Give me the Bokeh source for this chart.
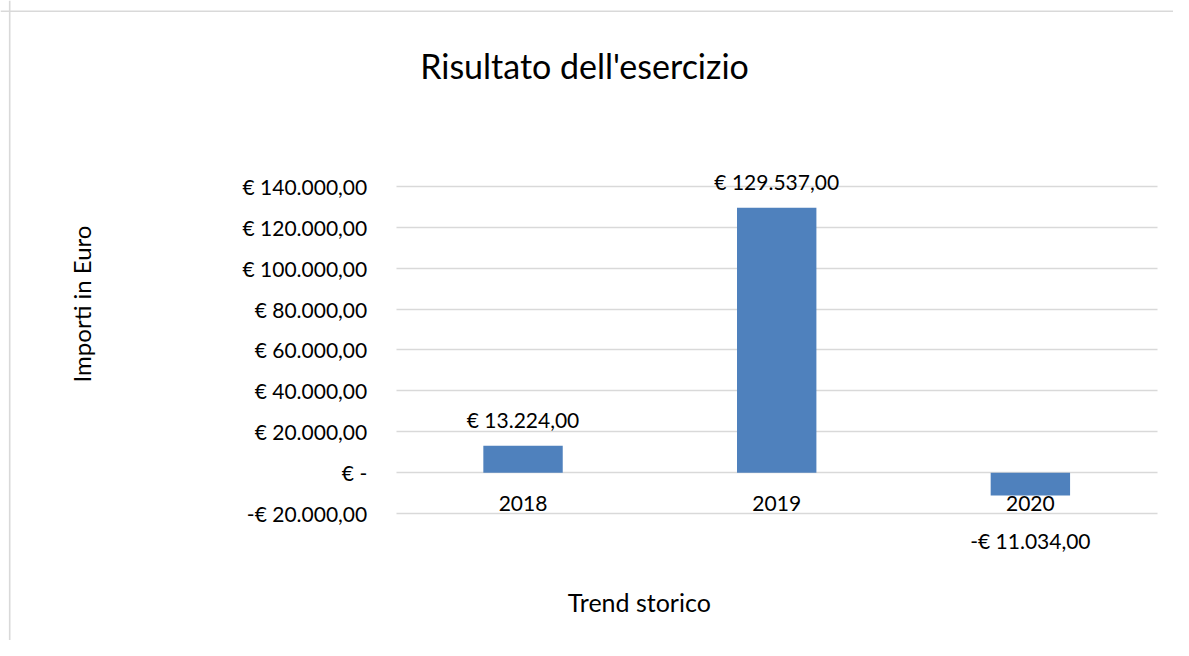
from math import pi
from bokeh.plotting import figure
from bokeh.models import (LinearAxis, FixedTicker, Grid, Span, Range1d,
                          ColumnDataSource)
from bokeh.core.properties import value
from bokeh.embed import file_html
from bokeh.resources import INLINE

# ---------------- data ----------------
years = ["2018", "2019", "2020"]
results = [13224, 129537, -11034]
y_ticks = [-20000, 0, 20000, 40000, 60000, 80000, 100000, 120000, 140000]
title_text = "Risultato dell'esercizio"
x_title = "Trend storico"
y_title = "Importi in Euro"


def euro(v):
    if v == 0:
        return "€ -"
    s = f"{abs(v):,.2f}".replace(",", "X").replace(".", ",").replace("X", ".")
    return ("-€ " if v < 0 else "€ ") + s


# ---------------- layout constants (pixels) ----------------
W, H = 1173, 640
PAGE = 0
PLOT_LEFT = 395.7 - PAGE       # canvas x of first category start
CAT_PX = 253.67                # pixels per category
ZERO_PX = 472.3 - PAGE         # canvas y of value 0
UNIT_PER_PX = 20000 / 40.94    # value per pixel
BASE_FIX = 0.33                # baseline correction, in em

x0 = -PLOT_LEFT / CAT_PX
x1 = (W - PLOT_LEFT) / CAT_PX
y1 = ZERO_PX * UNIT_PER_PX
y0 = -(H - ZERO_PX) * UNIT_PER_PX


def cx(page_x):
    return (page_x - PAGE - PLOT_LEFT) / CAT_PX


def cy(page_y):
    return (ZERO_PX - (page_y - PAGE)) * UNIT_PER_PX


FONT_NAME = "Lato"
FONT = value(FONT_NAME)
TXT = "#000000"
LBL = 21
TITLE = 34
XT = 25
YT = 24

p = figure(width=W, height=H, output_backend="svg", toolbar_location=None,
           x_range=Range1d(x0, x1), y_range=Range1d(y0, y1),
           x_axis_location=None, y_axis_location=None, min_border=0)
p.outline_line_color = None
p.background_fill_color = "white"
p.border_fill_color = "white"
# drop any default grids
p.center = [r for r in p.center if not isinstance(r, Grid)]

# chart border (left & top visible)
p.add_layout(Span(location=cx(9.2), dimension="height", line_color="#D9D9D9", line_width=1.6))
p.add_layout(Span(location=cy(10.8), dimension="width", line_color="#D9D9D9", line_width=1.6))

# gridlines
yticker = FixedTicker(ticks=y_ticks)
ygrid = Grid(dimension=1, ticker=yticker, grid_line_color="#D9D9D9", grid_line_width=1.5)
use_tick_lines = False
try:
    ygrid.cross_bounds = (0, len(years))
except Exception:
    use_tick_lines = True
    ygrid.visible = False
p.add_layout(ygrid)

# y axis
yaxis = LinearAxis(fixed_location=0, ticker=yticker,
                   major_label_overrides={t: euro(t) for t in y_ticks})
yaxis.axis_line_color = None
yaxis.minor_tick_line_color = None
yaxis.major_tick_out = 0
if use_tick_lines:
    yaxis.major_tick_in = int(round(len(years) * CAT_PX))
    yaxis.major_tick_line_color = "#D9D9D9"
    yaxis.major_tick_line_width = 1.5
else:
    yaxis.major_tick_in = 0
    yaxis.major_tick_line_color = None
yaxis.major_label_standoff = 29
yaxis.major_label_text_font = FONT_NAME
yaxis.major_label_text_font_size = f"{LBL}px"
yaxis.major_label_text_color = TXT
p.add_layout(yaxis, "left")

# bars
xc = [i + 0.5 for i in range(len(years))]
fix = BASE_FIX * LBL
src = ColumnDataSource(dict(
    x=xc, val=results, lbl=[euro(v) for v in results],
    yoff=[(-19 if v >= 0 else 51.7) - fix for v in results]))
p.vbar(x="x", top="val", bottom=0, width=0.313, source=src,
       fill_color="#4F81BD", line_color=None)

# x axis at zero
xaxis = LinearAxis(fixed_location=0, ticker=FixedTicker(ticks=xc),
                   major_label_overrides={x: y for x, y in zip(xc, years)})
xaxis.axis_line_color = None
xaxis.major_tick_line_color = None
xaxis.minor_tick_line_color = None
xaxis.major_tick_in = 0
xaxis.major_tick_out = 0
xaxis.major_label_standoff = 23
xaxis.major_label_text_font = FONT_NAME
xaxis.major_label_text_font_size = f"{LBL}px"
xaxis.major_label_text_color = TXT
p.add_layout(xaxis, "below")

# data labels
p.text(x="x", y="val", text="lbl", y_offset="yoff", source=src,
       text_align="center", text_baseline="alphabetic",
       text_font=FONT, text_font_size=f"{LBL}px", text_color=TXT)

# titles
p.text(x=[cx(584)], y=[cy(76.7)], text=[title_text], text_align="center",
       y_offset=-BASE_FIX * TITLE,
       text_baseline="alphabetic", text_font=FONT, text_font_size=f"{TITLE}px",
       text_color=TXT)
p.text(x=[cx(638.8)], y=[cy(609.3)], text=[x_title], text_align="center",
       y_offset=-BASE_FIX * XT,
       text_baseline="alphabetic", text_font=FONT, text_font_size=f"{XT}px",
       text_color=TXT)
p.text(x=[cx(89.3)], y=[cy(303.5)], text=[y_title], angle=pi / 2,
       x_offset=-BASE_FIX * YT,
       text_align="center", text_baseline="alphabetic", text_font=FONT,
       text_font_size=f"{YT}px", text_color=TXT)

open("out.html", "w").write(file_html(p, INLINE))
